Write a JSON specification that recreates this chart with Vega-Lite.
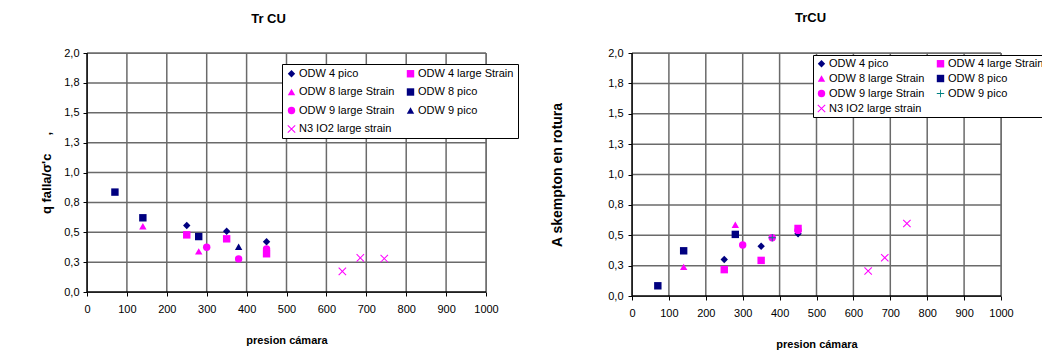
{
  "$schema": "https://vega.github.io/schema/vega-lite/v6.json",
  "background": "white",
  "padding": {"left": 40, "top": 11, "right": 0, "bottom": 0},
  "datasets": {
    "xgrid": [{"presion": 100}, {"presion": 200}, {"presion": 300}, {"presion": 400}, {"presion": 500}, {"presion": 600}, {"presion": 700}, {"presion": 800}, {"presion": 900}, {"presion": 1000}],
    "ygrid": [{"valor": 0.25}, {"valor": 0.5}, {"valor": 0.75}, {"valor": 1}, {"valor": 1.25}, {"valor": 1.5}, {"valor": 1.75}, {"valor": 2}],
    "origin": [{"presion": 0, "valor": 0}],
    "left": [
      {"serie": "ODW 4 pico", "presion": 250, "valor": 0.557},
      {"serie": "ODW 4 pico", "presion": 350, "valor": 0.509},
      {"serie": "ODW 4 pico", "presion": 450, "valor": 0.42},
      {"serie": "ODW 4 large Strain", "presion": 250, "valor": 0.478},
      {"serie": "ODW 4 large Strain", "presion": 350, "valor": 0.445},
      {"serie": "ODW 4 large Strain", "presion": 450, "valor": 0.32},
      {"serie": "ODW 8 large Strain", "presion": 140, "valor": 0.55},
      {"serie": "ODW 8 large Strain", "presion": 280, "valor": 0.34},
      {"serie": "ODW 8 pico", "presion": 70, "valor": 0.836},
      {"serie": "ODW 8 pico", "presion": 140, "valor": 0.621},
      {"serie": "ODW 8 pico", "presion": 280, "valor": 0.464},
      {"serie": "ODW 9 large Strain", "presion": 300, "valor": 0.375},
      {"serie": "ODW 9 large Strain", "presion": 380, "valor": 0.277},
      {"serie": "ODW 9 large Strain", "presion": 450, "valor": 0.36},
      {"serie": "ODW 9 pico", "presion": 380, "valor": 0.378},
      {"serie": "N3 IO2 large strain", "presion": 640, "valor": 0.173},
      {"serie": "N3 IO2 large strain", "presion": 685, "valor": 0.285},
      {"serie": "N3 IO2 large strain", "presion": 745, "valor": 0.28}
    ],
    "right": [
      {"serie": "ODW 4 pico", "presion": 250, "valor": 0.30},
      {"serie": "ODW 4 pico", "presion": 350, "valor": 0.41},
      {"serie": "ODW 4 pico", "presion": 450, "valor": 0.513},
      {"serie": "ODW 4 large Strain", "presion": 250, "valor": 0.217},
      {"serie": "ODW 4 large Strain", "presion": 350, "valor": 0.293},
      {"serie": "ODW 4 large Strain", "presion": 450, "valor": 0.556},
      {"serie": "ODW 8 large Strain", "presion": 140, "valor": 0.24},
      {"serie": "ODW 8 large Strain", "presion": 280, "valor": 0.586},
      {"serie": "ODW 8 pico", "presion": 70, "valor": 0.084},
      {"serie": "ODW 8 pico", "presion": 140, "valor": 0.372},
      {"serie": "ODW 8 pico", "presion": 280, "valor": 0.507},
      {"serie": "ODW 9 large Strain", "presion": 300, "valor": 0.42},
      {"serie": "ODW 9 large Strain", "presion": 380, "valor": 0.48},
      {"serie": "ODW 9 large Strain", "presion": 450, "valor": 0.54},
      {"serie": "ODW 9 pico", "presion": 380, "valor": 0.48},
      {"serie": "N3 IO2 large strain", "presion": 640, "valor": 0.206},
      {"serie": "N3 IO2 large strain", "presion": 685, "valor": 0.315},
      {"serie": "N3 IO2 large strain", "presion": 745, "valor": 0.597}
    ]
  },
  "hconcat": [
    {
      "width": 399,
      "height": 239,
      "title": {"text": "Tr CU", "fontSize": 13, "fontWeight": "bold", "font": "Liberation Sans", "color": "#000", "offset": 21, "anchor": "middle", "dx": -18},
      "layer": [
        {
          "data": {"name": "xgrid"},
          "mark": {"type": "bar", "size": 1.5, "color": "#6a6a6a"},
          "encoding": {
            "x": {"field": "presion", "type": "quantitative", "scale": {"domain": [0, 1000], "nice": false, "padding": 0},
              "axis": {"values": [0, 100, 200, 300, 400, 500, 600, 700, 800, 900, 1000], "format": "d", "title": "presion cámara", "titlePadding": 20, "labelPadding": 7}},
            "y": {"datum": 0, "type": "quantitative", "scale": {"domain": [0, 2], "nice": false, "padding": 0},
              "axis": {"values": [0, 0.25, 0.5, 0.75, 1, 1.25, 1.5, 1.75, 2], "labelExpr": "replace(format(datum.value, '.1f'), '.', ',')", "title": "q falla/σ'c\u00a0\u00a0\u00a0\u00a0\u00a0,", "titleFontSize": 13, "titlePadding": 10, "labelPadding": 4}},
            "y2": {"datum": 2}
          }
        },
        {
          "data": {"name": "ygrid"},
          "mark": {"type": "bar", "size": 1.5, "color": "#6a6a6a"},
          "encoding": {
            "y": {"field": "valor", "type": "quantitative", "scale": {"domain": [0, 2], "nice": false, "padding": 0},
              "axis": {"values": [0, 0.25, 0.5, 0.75, 1, 1.25, 1.5, 1.75, 2], "labelExpr": "replace(format(datum.value, '.1f'), '.', ',')", "title": "q falla/σ'c\u00a0\u00a0\u00a0\u00a0\u00a0,", "titleFontSize": 13, "titlePadding": 10, "labelPadding": 4}},
            "x": {"datum": 0, "type": "quantitative", "scale": {"domain": [0, 1000], "nice": false, "padding": 0},
              "axis": {"values": [0, 100, 200, 300, 400, 500, 600, 700, 800, 900, 1000], "format": "d", "title": "presion cámara", "titlePadding": 20, "labelPadding": 7}},
            "x2": {"datum": 1000}
          }
        },
        {
          "data": {"name": "origin"},
          "mark": {"type": "bar", "size": 1.5, "color": "#000"},
          "encoding": {
            "x": {"field": "presion", "type": "quantitative", "scale": {"domain": [0, 1000], "nice": false, "padding": 0},
              "axis": {"values": [0, 100, 200, 300, 400, 500, 600, 700, 800, 900, 1000], "format": "d", "title": "presion cámara", "titlePadding": 20, "labelPadding": 7}},
            "y": {"datum": 0, "type": "quantitative", "scale": {"domain": [0, 2], "nice": false, "padding": 0},
              "axis": {"values": [0, 0.25, 0.5, 0.75, 1, 1.25, 1.5, 1.75, 2], "labelExpr": "replace(format(datum.value, '.1f'), '.', ',')", "title": "q falla/σ'c\u00a0\u00a0\u00a0\u00a0\u00a0,", "titleFontSize": 13, "titlePadding": 10, "labelPadding": 4}},
            "y2": {"datum": 2}
          }
        },
        {
          "data": {"name": "origin"},
          "mark": {"type": "bar", "size": 1.5, "color": "#000"},
          "encoding": {
            "y": {"field": "valor", "type": "quantitative", "scale": {"domain": [0, 2], "nice": false, "padding": 0},
              "axis": {"values": [0, 0.25, 0.5, 0.75, 1, 1.25, 1.5, 1.75, 2], "labelExpr": "replace(format(datum.value, '.1f'), '.', ',')", "title": "q falla/σ'c\u00a0\u00a0\u00a0\u00a0\u00a0,", "titleFontSize": 13, "titlePadding": 10, "labelPadding": 4}},
            "x": {"datum": 0, "type": "quantitative", "scale": {"domain": [0, 1000], "nice": false, "padding": 0},
              "axis": {"values": [0, 100, 200, 300, 400, 500, 600, 700, 800, 900, 1000], "format": "d", "title": "presion cámara", "titlePadding": 20, "labelPadding": 7}},
            "x2": {"datum": 1000}
          }
        },
        {
          "data": {"name": "left"},
          "mark": {"type": "point", "filled": true, "size": 55, "opacity": 1},
          "encoding": {
            "x": {"field": "presion", "type": "quantitative", "scale": {"domain": [0, 1000], "nice": false, "padding": 0},
              "axis": {"values": [0, 100, 200, 300, 400, 500, 600, 700, 800, 900, 1000], "format": "d", "title": "presion cámara", "titlePadding": 20, "labelPadding": 7}},
            "y": {"field": "valor", "type": "quantitative", "scale": {"domain": [0, 2], "nice": false, "padding": 0},
              "axis": {"values": [0, 0.25, 0.5, 0.75, 1, 1.25, 1.5, 1.75, 2], "labelExpr": "replace(format(datum.value, '.1f'), '.', ',')", "title": "q falla/σ'c\u00a0\u00a0\u00a0\u00a0\u00a0,", "titleFontSize": 13, "titlePadding": 10, "labelPadding": 4}},
            "color": {"field": "serie", "type": "nominal",
              "scale": {"domain": ["ODW 4 pico", "ODW 4 large Strain", "ODW 8 large Strain", "ODW 8 pico", "ODW 9 large Strain", "ODW 9 pico", "N3 IO2 large strain"],
                "range": ["#000080", "#FF00FF", "#FF00FF", "#000080", "#FF00FF", "#000080", "#FF00FF"]},
              "legend": {"orient": "none", "legendX": 195, "legendY": 11, "columns": 2, "direction": "horizontal", "title": null, "strokeColor": "#000", "fillColor": "#fff", "padding": 4, "labelFontSize": 11, "labelFont": "Liberation Sans", "labelColor": "#000", "symbolSize": 55, "labelOffset": 2, "columnPadding": 10, "rowPadding": 6.5}},
            "shape": {"field": "serie", "type": "nominal",
              "scale": {"domain": ["ODW 4 pico", "ODW 4 large Strain", "ODW 8 large Strain", "ODW 8 pico", "ODW 9 large Strain", "ODW 9 pico", "N3 IO2 large strain"],
                "range": ["diamond", "square", "triangle-up", "square", "circle", "triangle-up", "M-0.9,-1.1L1.1,0.9L0.9,1.1L-1.1,-0.9Z M-1.1,0.9L0.9,-1.1L1.1,-0.9L-0.9,1.1Z"]}}
          }
        }
      ]
    },
    {
      "width": 369,
      "height": 243,
      "title": {"text": "TrCU", "fontSize": 13, "fontWeight": "bold", "font": "Liberation Sans", "color": "#000", "offset": 22, "anchor": "middle", "dx": -6},
      "layer": [
        {
          "data": {"name": "xgrid"},
          "mark": {"type": "bar", "size": 1.5, "color": "#6a6a6a"},
          "encoding": {
            "x": {"field": "presion", "type": "quantitative", "scale": {"domain": [0, 1000], "nice": false, "padding": 0},
              "axis": {"values": [0, 100, 200, 300, 400, 500, 600, 700, 800, 900, 1000], "format": "d", "title": "presion cámara", "titlePadding": 20, "labelPadding": 7}},
            "y": {"datum": 0, "type": "quantitative", "scale": {"domain": [0, 2], "nice": false, "padding": 0},
              "axis": {"values": [0, 0.25, 0.5, 0.75, 1, 1.25, 1.5, 1.75, 2], "labelExpr": "replace(format(datum.value, '.1f'), '.', ',')", "title": "A skempton en rotura", "titleFontSize": 14, "titlePadding": 43, "labelPadding": 5}},
            "y2": {"datum": 2}
          }
        },
        {
          "data": {"name": "ygrid"},
          "mark": {"type": "bar", "size": 1.5, "color": "#6a6a6a"},
          "encoding": {
            "y": {"field": "valor", "type": "quantitative", "scale": {"domain": [0, 2], "nice": false, "padding": 0},
              "axis": {"values": [0, 0.25, 0.5, 0.75, 1, 1.25, 1.5, 1.75, 2], "labelExpr": "replace(format(datum.value, '.1f'), '.', ',')", "title": "A skempton en rotura", "titleFontSize": 14, "titlePadding": 43, "labelPadding": 5}},
            "x": {"datum": 0, "type": "quantitative", "scale": {"domain": [0, 1000], "nice": false, "padding": 0},
              "axis": {"values": [0, 100, 200, 300, 400, 500, 600, 700, 800, 900, 1000], "format": "d", "title": "presion cámara", "titlePadding": 20, "labelPadding": 7}},
            "x2": {"datum": 1000}
          }
        },
        {
          "data": {"name": "origin"},
          "mark": {"type": "bar", "size": 1.5, "color": "#000"},
          "encoding": {
            "x": {"field": "presion", "type": "quantitative", "scale": {"domain": [0, 1000], "nice": false, "padding": 0},
              "axis": {"values": [0, 100, 200, 300, 400, 500, 600, 700, 800, 900, 1000], "format": "d", "title": "presion cámara", "titlePadding": 20, "labelPadding": 7}},
            "y": {"datum": 0, "type": "quantitative", "scale": {"domain": [0, 2], "nice": false, "padding": 0},
              "axis": {"values": [0, 0.25, 0.5, 0.75, 1, 1.25, 1.5, 1.75, 2], "labelExpr": "replace(format(datum.value, '.1f'), '.', ',')", "title": "A skempton en rotura", "titleFontSize": 14, "titlePadding": 43, "labelPadding": 5}},
            "y2": {"datum": 2}
          }
        },
        {
          "data": {"name": "origin"},
          "mark": {"type": "bar", "size": 1.5, "color": "#000"},
          "encoding": {
            "y": {"field": "valor", "type": "quantitative", "scale": {"domain": [0, 2], "nice": false, "padding": 0},
              "axis": {"values": [0, 0.25, 0.5, 0.75, 1, 1.25, 1.5, 1.75, 2], "labelExpr": "replace(format(datum.value, '.1f'), '.', ',')", "title": "A skempton en rotura", "titleFontSize": 14, "titlePadding": 43, "labelPadding": 5}},
            "x": {"datum": 0, "type": "quantitative", "scale": {"domain": [0, 1000], "nice": false, "padding": 0},
              "axis": {"values": [0, 100, 200, 300, 400, 500, 600, 700, 800, 900, 1000], "format": "d", "title": "presion cámara", "titlePadding": 20, "labelPadding": 7}},
            "x2": {"datum": 1000}
          }
        },
        {
          "data": {"name": "right"},
          "mark": {"type": "point", "filled": true, "size": 55, "opacity": 1},
          "encoding": {
            "x": {"field": "presion", "type": "quantitative", "scale": {"domain": [0, 1000], "nice": false, "padding": 0},
              "axis": {"values": [0, 100, 200, 300, 400, 500, 600, 700, 800, 900, 1000], "format": "d", "title": "presion cámara", "titlePadding": 20, "labelPadding": 7}},
            "y": {"field": "valor", "type": "quantitative", "scale": {"domain": [0, 2], "nice": false, "padding": 0},
              "axis": {"values": [0, 0.25, 0.5, 0.75, 1, 1.25, 1.5, 1.75, 2], "labelExpr": "replace(format(datum.value, '.1f'), '.', ',')", "title": "A skempton en rotura", "titleFontSize": 14, "titlePadding": 43, "labelPadding": 5}},
            "color": {"field": "serie", "type": "nominal",
              "scale": {"domain": ["ODW 4 pico", "ODW 4 large Strain", "ODW 8 large Strain", "ODW 8 pico", "ODW 9 large Strain", "ODW 9 pico", "N3 IO2 large strain"],
                "range": ["#000080", "#FF00FF", "#FF00FF", "#000080", "#FF00FF", "#008080", "#FF00FF"]},
              "legend": {"orient": "none", "legendX": 181, "legendY": 2, "columns": 2, "direction": "horizontal", "title": null, "strokeColor": "#000", "fillColor": "#fff", "padding": 3, "labelFontSize": 11, "labelFont": "Liberation Sans", "labelColor": "#000", "symbolSize": 55, "labelOffset": 2, "columnPadding": 10, "rowPadding": 3}},
            "shape": {"field": "serie", "type": "nominal",
              "scale": {"domain": ["ODW 4 pico", "ODW 4 large Strain", "ODW 8 large Strain", "ODW 8 pico", "ODW 9 large Strain", "ODW 9 pico", "N3 IO2 large strain"],
                "range": ["diamond", "square", "triangle-up", "square", "circle", "M-1,-0.12L1,-0.12L1,0.12L-1,0.12Z M-0.12,-1L0.12,-1L0.12,1L-0.12,1Z", "M-0.9,-1.1L1.1,0.9L0.9,1.1L-1.1,-0.9Z M-1.1,0.9L0.9,-1.1L1.1,-0.9L-0.9,1.1Z"]}}
          }
        }
      ]
    }
  ],
  "spacing": 31,
  "resolve": {
    "scale": {"color": "independent", "shape": "independent", "x": "independent", "y": "independent"},
    "legend": {"color": "independent", "shape": "independent"}
  },
  "config": {
    "font": "Liberation Sans",
    "view": {"stroke": "#808080", "strokeWidth": 1},
    "scale": {"continuousPadding": 0},
    "axis": {
      "labelFont": "Liberation Sans", "labelFontSize": 11, "labelColor": "#000",
      "titleFont": "Liberation Sans", "titleFontSize": 11, "titleFontWeight": "bold", "titleColor": "#000",
      "domain": false, "grid": false,
      "ticks": true, "tickColor": "#000000", "tickSize": 4, "tickWidth": 1,
      "labelFlush": false, "labelOverlap": false
    }
  }
}
